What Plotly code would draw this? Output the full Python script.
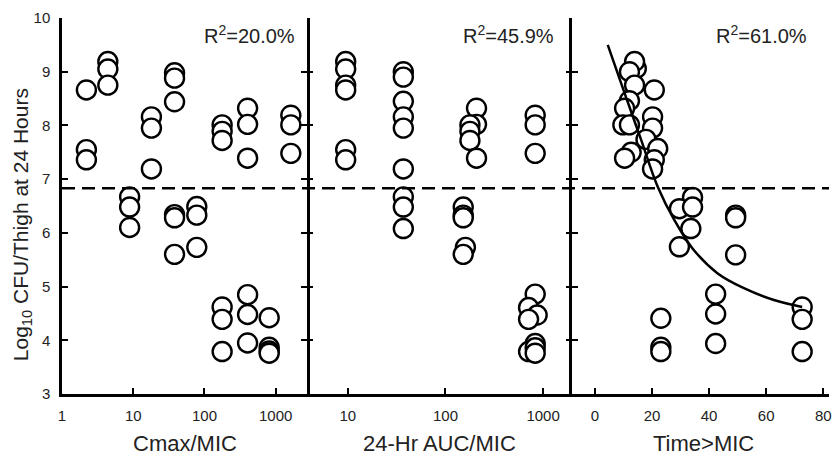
import plotly.graph_objects as go

# ---------------- data ----------------
cmax_x = [2.2, 2.2, 2.2, 4.4, 4.4, 4.4, 8.9, 8.9, 8.9, 18, 18, 18,
          38, 38, 38, 38, 38, 38, 78, 78, 78,
          177, 177, 177, 177, 177, 177, 403, 403, 403, 403, 403, 403,
          1630, 1630, 1630, 810, 810, 810, 810]
cmax_y = [8.66, 7.55, 7.36, 9.19, 9.05, 8.75, 6.67, 6.48, 6.10, 8.16, 7.95, 7.19,
          8.98, 8.88, 8.44, 6.34, 6.28, 5.60, 6.49, 6.33, 5.73,
          8.01, 7.89, 7.72, 4.62, 4.39, 3.79, 8.32, 8.02, 7.39, 4.85, 4.48, 3.95,
          8.19, 8.01, 7.48, 4.42, 3.87, 3.80, 3.76]

auc_x = [9.5, 9.5, 9.5, 9.5, 9.5, 9.5,
         37, 37, 37, 37, 37, 37, 37, 37, 37,
         208, 208, 178, 178, 178, 208, 152, 152, 152, 160, 152,
         830, 830, 830, 830, 710, 870, 710, 830, 710, 830, 830]
auc_y = [9.19, 9.05, 8.75, 8.66, 7.55, 7.36,
         9.00, 8.90, 8.45, 8.16, 7.95, 7.19, 6.67, 6.48, 6.08,
         8.32, 8.02, 8.01, 7.89, 7.72, 7.39, 6.48, 6.33, 6.28, 5.73, 5.60,
         8.19, 8.01, 7.48, 4.86, 4.61, 4.47, 4.39, 3.94, 3.79, 3.86, 3.76]

time_x = [14.5, 13.9, 12.1, 13.9, 20.8, 12.1, 10.4, 20.2, 9.8, 12.1, 20.2, 17.9,
          22.0, 12.7, 10.4, 20.8, 20.2,
          34.2, 29.6, 34.2, 33.6, 49.3, 49.3, 29.6, 49.3,
          42.3, 42.3, 42.3, 23.1, 23.1, 23.1, 72.6, 72.6, 72.6]
time_y = [9.06, 9.19, 9.00, 8.75, 8.66, 8.46, 8.32, 8.16, 8.01, 8.01, 7.95, 7.74,
          7.57, 7.50, 7.39, 7.36, 7.19,
          6.66, 6.45, 6.48, 6.08, 6.33, 6.28, 5.74, 5.59,
          4.86, 4.49, 3.94, 4.41, 3.87, 3.79, 4.62, 4.39, 3.79]

fit_x = [4.5, 10.4, 16.2, 22.0, 27.8, 34.2, 42.9, 52.2, 62.7, 72.6]
fit_y = [9.50, 8.60, 7.73, 6.86, 6.24, 5.71, 5.25, 4.97, 4.75, 4.62]

stasis_y = 6.83
r2_labels = ["R<sup>2</sup>=20.0%", "R<sup>2</sup>=45.9%", "R<sup>2</sup>=61.0%"]
x_titles = ["Cmax/MIC", "24-Hr AUC/MIC", "Time>MIC"]
y_title = "Log<sub>10</sub> CFU/Thigh at 24 Hours"
y_ticks = [3, 4, 5, 6, 7, 8, 9, 10]

# ---------------- figure ----------------
FONT = "Liberation Sans, Arial, sans-serif"
TXT = "#222222"
marker = dict(symbol="circle", size=19, color="white",
              line=dict(color="black", width=2.4))

fig = go.Figure()
fig.add_trace(go.Scatter(x=cmax_x, y=cmax_y, mode="markers", marker=marker,
                         xaxis="x", yaxis="y", showlegend=False))
fig.add_trace(go.Scatter(x=auc_x, y=auc_y, mode="markers", marker=marker,
                         xaxis="x2", yaxis="y2", showlegend=False))
fig.add_trace(go.Scatter(x=time_x, y=time_y, mode="markers", marker=marker,
                         xaxis="x3", yaxis="y3", showlegend=False))
fig.add_trace(go.Scatter(x=fit_x, y=fit_y, mode="lines",
                         line=dict(color="black", width=2.5, shape="spline"),
                         xaxis="x3", yaxis="y3", showlegend=False))

d1, d2 = 0.3195, 0.6649
common_x = dict(showline=True, linewidth=2.5, linecolor="black", ticks="inside",
                ticklen=6, tickwidth=2, tickcolor="black", showgrid=False,
                zeroline=False, tickfont=dict(family=FONT, size=15, color=TXT),
                ticklabelstandoff=6, ticklabeloverflow="allow")
common_y = dict(linewidth=2.5, linecolor="black", ticks="inside",
                ticklen=6, tickwidth=2, tickcolor="black", showgrid=False,
                zeroline=False, range=[3, 10], tickvals=y_ticks, domain=[0, 1])

fig.update_layout(
    width=832, height=456,
    margin=dict(l=62, r=0, t=18, b=62),
    paper_bgcolor="white", plot_bgcolor="white",
    font=dict(family=FONT, color=TXT),
    xaxis=dict(type="log", range=[0, 3.44], domain=[0, d1], anchor="y",
               tickvals=[1, 10, 100, 1000], ticktext=["1", "10", "100", "1000"],
               **common_x),
    xaxis2=dict(type="log", range=[0.582, 3.296], domain=[d1, d2], anchor="y2",
                tickvals=[10, 100, 1000], ticktext=["10", "100", "1000"],
                **common_x),
    xaxis3=dict(range=[-8.03, 82], domain=[d2, 1], anchor="y3",
                tickvals=[0, 20, 40, 60, 80], **common_x),
    yaxis=dict(anchor="x", showline=True, mirror="ticks", showticklabels=True,
               tickfont=dict(family=FONT, size=15, color=TXT),
               ticklabelstandoff=6, **common_y),
    yaxis2=dict(anchor="x2", matches="y", showline=False, mirror="ticks",
                showticklabels=False, **common_y),
    yaxis3=dict(anchor="x3", matches="y", showline=True, showticklabels=False,
                **common_y),
)

fig.add_shape(type="line", xref="paper", x0=0, x1=1, yref="y", y0=stasis_y,
              y1=stasis_y, line=dict(color="black", width=2.5, dash="13px,7px"))

xrefs = ["x domain", "x2 domain", "x3 domain"]
r2_shift = [-10, -16, -20]
for i in range(3):
    fig.add_annotation(text=r2_labels[i], xref=xrefs[i], yref="y domain",
                       x=1, y=1, xanchor="right", yanchor="top",
                       xshift=r2_shift[i], yshift=-2, showarrow=False,
                       font=dict(family=FONT, size=20, color=TXT))
    fig.add_annotation(text=x_titles[i], xref=xrefs[i], yref="paper",
                       x=0.5, y=0, xanchor="center", yanchor="middle",
                       yshift=-49, xshift=(3 if i == 2 else 0), showarrow=False,
                       font=dict(family=FONT, size=22, color=TXT))

fig.add_annotation(text=y_title, xref="paper", yref="paper", x=0, y=0.449,
                   xanchor="center", yanchor="middle", xshift=-40,
                   textangle=-90, showarrow=False,
                   font=dict(family=FONT, size=21, color=TXT))

fig.write_html("out.html")
